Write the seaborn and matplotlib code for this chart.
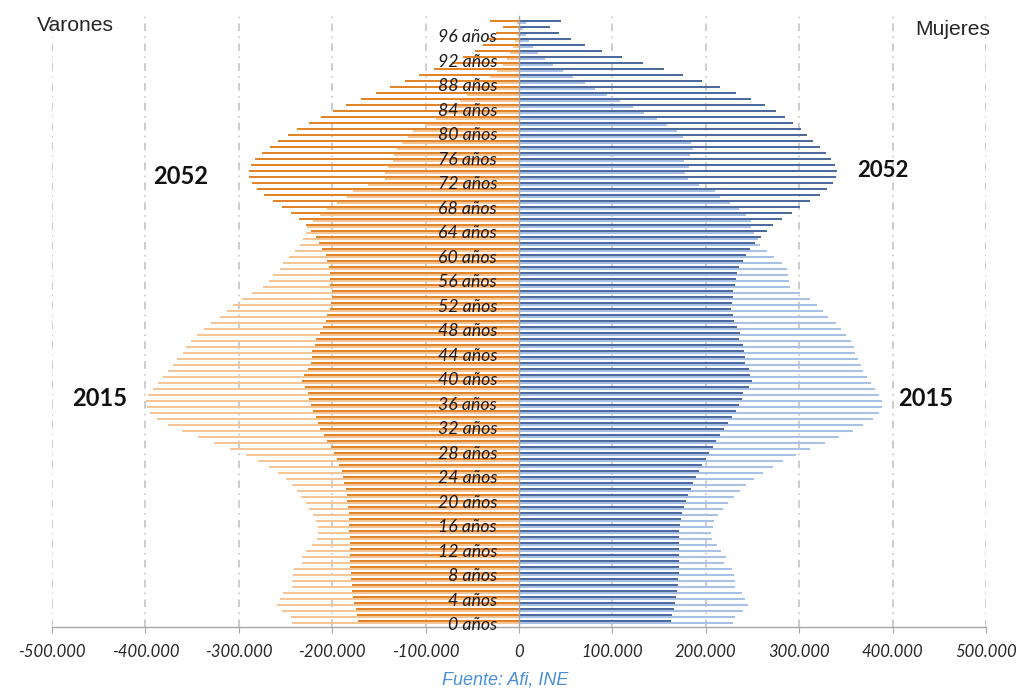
import numpy as np
import pandas as pd
import matplotlib
matplotlib.use("Agg")
import matplotlib.pyplot as plt
import seaborn as sns

# ---------------- data (thousands of persons) ----------------
ages = list(range(0, 101))

varones_2015 = [243, 244, 254, 259, 256, 253, 243, 243, 242, 241,
                232, 232, 228, 222, 216, 215, 215, 217, 221, 225,
                228, 233, 238, 243, 249, 258, 267.3, 279.1, 292.6, 309.4,
                326.2, 343.4, 360.5, 375.5, 387.2, 395.1, 398.6, 399.7, 396.9, 392.2,
                386.2, 380.8, 375.5, 370.8, 365.8, 360.1, 356.5, 351.5, 344.4, 337.3,
                329.8, 320.1, 313, 305.9, 296.9, 285.5, 273.7, 268, 263.7, 255.9,
                252.3, 245.9, 239.8, 234.5, 230.9, 228, 227.3, 220.2, 213, 205.9,
                195.2, 184.5, 177.4, 161.3, 143.5, 143.5, 140, 135.2, 133.8, 131,
                125.6, 118.6, 113, 100, 89, 79, 70, 63, 56, 47,
                38, 31, 23.9, 17.5, 12.8, 9.6, 6, 4, 2.5, 1.5,
                2]

varones_2052 = [172.1, 173.8, 174.9, 176.3, 177.4, 178.5, 179.2, 180.3, 180.3, 181,
                181, 181, 181, 181, 181, 181.7, 181.7, 182, 182, 182.7,
                183.8, 184.5, 185.3, 187, 188.1, 189.8, 192.7, 195.2, 198, 201.6,
                206, 208.8, 213, 214.9, 217.3, 220.2, 222.7, 224.5, 225.6, 229.1,
                232, 229.9, 225.6, 222.7, 222, 221.3, 218.4, 217.3, 213, 210.2,
                206.6, 205.2, 202.4, 201.2, 200.5, 200.5, 202.4, 202.4, 202.4, 203.1,
                205.2, 207, 210.6, 213.8, 217.7, 222.4, 228.4, 235.5, 244, 253.4,
                263, 272.7, 280.2, 286.2, 289.4, 289.4, 287, 282.3, 274.8, 266.6,
                257.7, 247.7, 237.7, 225.2, 212.3, 198.8, 185, 169, 153.4, 138,
                122, 106.7, 91, 72, 59.6, 47, 38.2, 33, 25, 17.5,
                31]

mujeres_2015 = [229.5, 231.3, 239.5, 245.5, 242, 239, 231.6, 231.3, 229.8, 227.7,
                219.8, 221.6, 216.3, 211.6, 206.3, 205.6, 207.4, 209.1, 213.4, 218.8,
                224, 230.5, 236.6, 243, 251.6, 261.6, 271.6, 283, 296.6, 311.5,
                327.6, 342.6, 357.3, 368.7, 379.5, 385.5, 389, 388.3, 385.8, 381.2,
                376.5, 372.3, 368.7, 366.2, 363.4, 359.8, 358.7, 355.5, 349.8, 344.5,
                339, 331.2, 325, 319.4, 311.5, 300.8, 290, 289, 288, 286.6,
                281.2, 273, 265, 258, 256.2, 251.6, 248, 248.4, 243, 235.5,
                225.9, 215.2, 209.8, 193.1, 181.3, 177.7, 182.4, 176.7, 183, 186,
                183.8, 176, 168.8, 158.8, 147.4, 133.8, 121.7, 107.8, 94.6, 81.7,
                70.3, 57.8, 46.8, 36.8, 27.8, 20.7, 15, 10.3, 7.1, 4.6,
                7.1]

mujeres_2052 = [162.4, 163.8, 165.6, 167, 168.1, 169.2, 169.9, 170.6, 170.9, 170.9,
                171.3, 171.3, 170.9, 170.9, 171.3, 171.6, 172.4, 173, 174.5, 176.3,
                178.4, 181, 183.8, 186.3, 189.5, 192.7, 195.9, 200.2, 203.1, 207.4,
                210.9, 215.2, 219.5, 223.4, 228, 232.3, 236, 238.8, 240.2, 245.8,
                249, 247.3, 246.3, 242.3, 242, 241.3, 240.2, 236, 236.6, 233.8,
                230.6, 228.8, 227, 227.7, 228.8, 229.5, 231, 232, 233, 235.9,
                239.5, 243, 247.3, 252.7, 258.8, 265.2, 272.3, 281.9, 291.9, 300.8,
                311.9, 322.3, 329.4, 336.2, 339.4, 340.8, 338.3, 334.4, 328.3, 322.3,
                315, 308.6, 302, 293.7, 284.4, 275, 263, 248, 232, 214.8,
                195.6, 175.6, 155, 132.8, 110, 88.5, 70.7, 55.3, 42.5, 32.8,
                44.6]

label_ages = list(range(0, 100, 4))
age_labels = [f"{a} años" for a in label_ages]

x_ticks = [-500000, -400000, -300000, -200000, -100000, 0,
           100000, 200000, 300000, 400000, 500000]
x_tick_labels = ["-500.000", "-400.000", "-300.000", "-200.000", "-100.000", "0",
                 "100.000", "200.000", "300.000", "400.000", "500.000"]

# ---------------- style ----------------
sns.set_theme(style="white")
plt.rcParams["font.family"] = ["Lato", "DejaVu Sans"]

C_M52 = "#E2842A"
C_M15 = "#F5C596"
C_F52 = "#4D6A9E"
C_F15 = "#A7C1E6"
GRID = "#BFBFBF"
AXIS = "#A6A6A6"

fig = plt.figure(figsize=(10.2, 6.91), dpi=100)
ax = fig.add_axes([0.05098, 0.0926, 0.91569, 0.8842])

series = [
    (varones_2052, -1, C_M52, 0.22),
    (varones_2015, -1, C_M15, -0.22),
    (mujeres_2052, 1, C_F52, 0.22),
    (mujeres_2015, 1, C_F15, -0.22),
]
for vals, sign, col, off in series:
    sub = pd.DataFrame({
        "pos": np.asarray(ages, dtype=float) + off,
        "val": sign * np.asarray(vals) * 1000.0,
    })
    sns.barplot(data=sub, x="val", y="pos", orient="h", native_scale=True,
                width=0.36, color=col, saturation=1, errorbar=None,
                edgecolor="none", linewidth=0, ax=ax, zorder=2)

ax.set_xlim(-500000, 500000)
ax.set_ylim(-0.833, 101.0)
ax.set_xlabel("")
ax.set_ylabel("")

# vertical dash-dot gridlines
for xv in x_ticks:
    if xv == 0:
        continue
    ax.axvline(xv, color=GRID, lw=1.1, ls=(0, (5, 3.5, 1, 3.5)), zorder=0.5)

# spines
for s in ["top", "right"]:
    ax.spines[s].set_visible(False)
ax.spines["bottom"].set_color(AXIS)
ax.spines["bottom"].set_linewidth(1.0)
ax.spines["left"].set_position(("data", 0))
ax.spines["left"].set_color(AXIS)
ax.spines["left"].set_linewidth(1.0)
ax.spines["left"].set_zorder(3)

# category ticks on the central axis
ax.set_yticks([a + 0.5 for a in range(-1, 101)])
ax.set_yticklabels([])
ax.tick_params(axis="y", length=5, width=0.7, color=AXIS, direction="inout")

ax.set_xticks(x_ticks, labels=x_tick_labels, fontstyle="italic", fontsize=12)
ax.tick_params(axis="x", length=4, width=0.8, color=AXIS, pad=8,
               labelcolor="#262626", bottom=True)

# age labels
for a, lab in zip(label_ages, age_labels):
    ax.text(-23500, a * 1.0208 - 0.5, lab, ha="right", va="center",
            fontstyle="italic", fontsize=12.8, color="#1A1A1A", zorder=5)

# year annotations
ax.text(-361900, 74.2, "2052", ha="center", va="center", fontsize=17,
        fontweight="bold", color="#111111", zorder=5)
ax.text(389700, 75.3, "2052", ha="center", va="center", fontsize=16,
        fontweight="bold", color="#111111", zorder=5)
ax.text(-448600, 37.3, "2015", ha="center", va="center", fontsize=17,
        fontweight="bold", color="#111111", zorder=5)
ax.text(435800, 37.3, "2015", ha="center", va="center", fontsize=17,
        fontweight="bold", color="#111111", zorder=5)

fam = ["Liberation Sans", "DejaVu Sans"]
fig.text(0.0363, 0.9638, "Varones", ha="left", va="center", fontsize=15.2,
         color="#262626", family=fam)
fig.text(0.9706, 0.9566, "Mujeres", ha="right", va="center", fontsize=15.2,
         color="#262626", family=fam)
fig.text(0.495, 0.016, "Fuente: Afi, INE", ha="center", va="center",
         fontsize=13, fontstyle="italic", color="#4A8FD8", family=fam)

fig.savefig("out.png", dpi=100)
